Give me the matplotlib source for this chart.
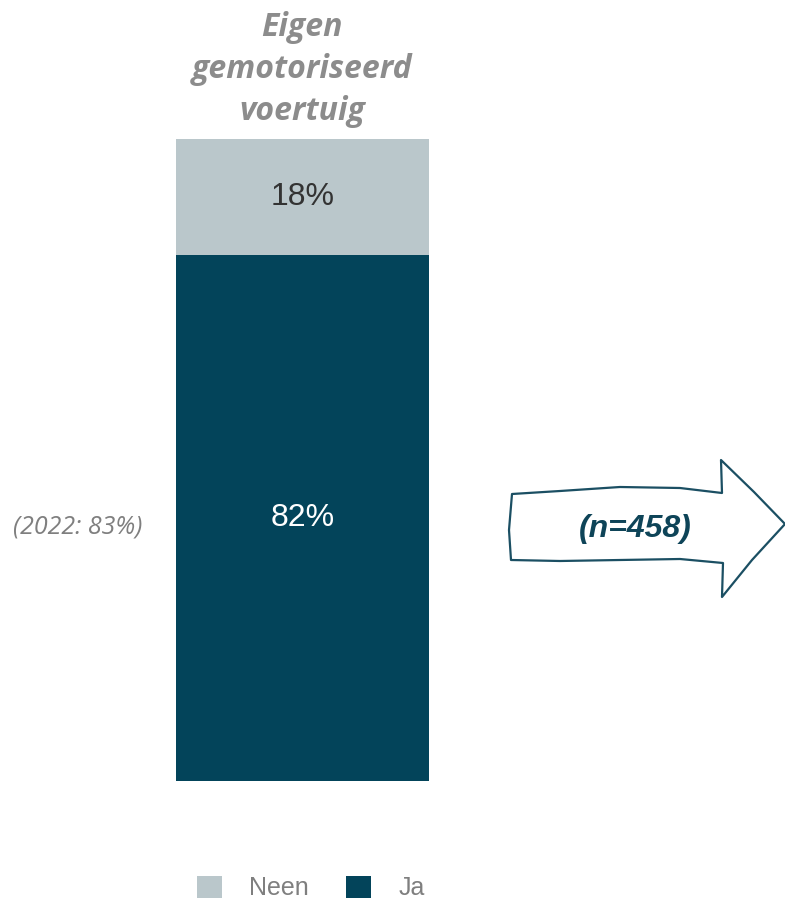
import matplotlib
matplotlib.use('Agg')
import matplotlib.pyplot as plt
from matplotlib.patches import Polygon

# ---- data ----
categories = ['Eigen\ngemotoriseerd\nvoertuig']
series_names = ['Ja', 'Neen']
ja_values = [82]
neen_values = [18]
previous_note = '(2022: 83%)'
sample_note = '(n=458)'

_COLORS = {
    'Ja':   '#03445A',
    'Neen': '#BAC7CB',
}

W, H = 785, 901
fig = plt.figure(figsize=(W / 100, H / 100), dpi=100)


def px(x, y):
    """pixel (top-left origin) -> figure fraction"""
    return x / W, 1 - y / H


# bar axes: pixel box 176..429 x 139..781
ax = fig.add_axes([176 / W, 1 - 781 / H, (429 - 176) / W, (781 - 139) / H])
ax.bar([0], ja_values, width=1.0, color=_COLORS['Ja'], label='Ja')
ax.bar([0], neen_values, width=1.0, bottom=ja_values,
       color=_COLORS['Neen'], label='Neen')
ax.set_xlim(-0.5, 0.5)
ax.set_ylim(0, 100)
ax.axis('off')

ax.text(0, ja_values[0] / 2, f'{ja_values[0]}%', ha='center', va='center',
        fontsize=23, color='white', family='Liberation Sans')
ax.text(0, ja_values[0] + neen_values[0] / 2, f'{neen_values[0]}%',
        ha='center', va='center', fontsize=23, color='#333333',
        family='Liberation Sans')

# title above bar
fig.text(*px(302, 69), categories[0], ha='center', va='center',
         fontsize=23, color='#8C8C8C', family='Open Sans',
         fontweight='bold', style='italic', linespacing=1.36)

# previous year note
fig.text(*px(78, 527), previous_note, ha='center', va='center',
         fontsize=18, color='#7F7F7F', family='Open Sans', style='italic')

# hand-drawn style arrow
arrow_pts = [(512, 494), (560, 491), (620, 487), (680, 488), (722, 493),
             (721, 460), (754, 492), (785, 524), (752, 560), (722, 597),
             (723, 563), (680, 559), (620, 560), (560, 561), (511, 560),
             (509, 530)]
arrow = Polygon([px(x, y) for x, y in arrow_pts], closed=True,
                transform=fig.transFigure, facecolor='white',
                edgecolor='#1B4F63', linewidth=1.6, joinstyle='round')
fig.add_artist(arrow)
fig.text(*px(635, 529), sample_note, ha='center', va='center',
         fontsize=23, color='#0E4458', family='Liberation Sans',
         fontweight='bold', style='italic')

# legend
handles, labels = ax.get_legend_handles_labels()
order = [1, 0]
fig.legend([handles[i] for i in order], [labels[i] for i in order],
           loc='center', bbox_to_anchor=px(311, 888), ncol=2, frameon=False,
           handlelength=1.0, handleheight=1.0,
           handletextpad=1.1, columnspacing=1.5, labelcolor='#7F7F7F',
           prop={'family': 'Liberation Sans', 'size': 18})

fig.savefig('out.png', dpi=100)
